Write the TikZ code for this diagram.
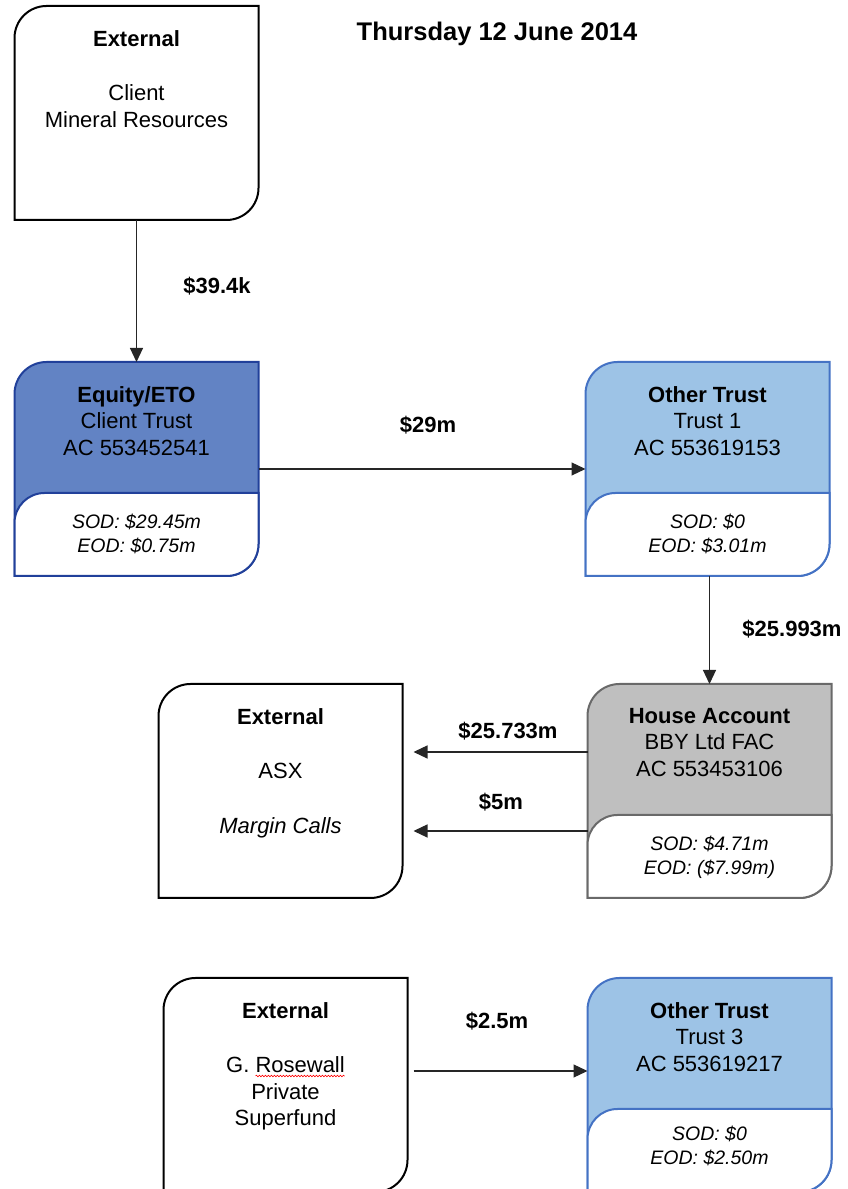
\documentclass[tikz,border=0pt]{standalone}
\usepackage{fontspec}
\setmainfont{Liberation Sans}
\usetikzlibrary{arrows.meta, positioning, decorations.pathmorphing}

\definecolor{eqfill}{RGB}{98,131,196}
\definecolor{eqline}{RGB}{33,64,154}
\definecolor{trfill}{RGB}{157,195,230}
\definecolor{trline}{RGB}{68,114,196}
\definecolor{hsfill}{RGB}{191,191,191}
\definecolor{hsline}{RGB}{105,105,105}

\tikzstyle{acct}=[rectangle, minimum width=244pt, minimum height=214pt, inner sep=0pt, outer sep=0pt]
\tikzstyle{head}=[anchor=north, align=center, inner sep=0pt, font=\fontsize{22pt}{26.5pt}\selectfont]
\tikzstyle{bal}=[anchor=north, align=center, inner sep=0pt, font=\fontsize{19.5pt}{23.5pt}\selectfont\itshape]
\tikzstyle{amt}=[anchor=base, inner sep=0pt, font=\fontsize{22pt}{26.5pt}\selectfont\bfseries]
\tikzstyle{boxline}=[line width=2pt]
\tikzstyle{flow}=[->, line width=1.2pt, draw=black!85]

% box with round top-left and bottom-right corners
\newcommand{\cutbox}[3]{%
  \draw[boxline, fill=#2, draw=#3]
    (#1.south west) -- ([yshift=-32pt]#1.north west)
    arc[start angle=180, end angle=90, radius=32pt]
    -- (#1.north east) -- ([yshift=32pt]#1.south east)
    arc[start angle=0, end angle=-90, radius=32pt]
    -- cycle;}
% white balance panel at the foot of an account box
\newcommand{\balpanel}[2]{%
  \draw[boxline, fill=white, draw=#2]
    (#1.south west) -- ([yshift=53pt]#1.south west)
    arc[start angle=180, end angle=90, radius=30pt]
    -- ([yshift=83pt]#1.south east) -- ([yshift=32pt]#1.south east)
    arc[start angle=0, end angle=-90, radius=32pt]
    -- cycle;}

\begin{document}
\begin{tikzpicture}[x=1pt, y=1pt, >={Triangle[length=14pt, width=13pt]}]
  \useasboundingbox (0,0) rectangle (847,1189);

  \node[amt, font=\fontsize{25.5pt}{30pt}\selectfont\bfseries] (date) at (497,1148) {Thursday 12 June 2014};

  % boxes
  \node[acct] (ext1) at (136.5,1076) {};
  \node[acct, below=142pt of ext1] (equity) {};
  \node[acct, right=327pt of equity] (trust1) {};
  \node[acct, below=108pt of trust1, xshift=2pt] (house) {};
  \node[acct, left=185pt of house] (asx) {};
  \node[acct, below=80pt of asx, xshift=5pt] (rosewall) {};
  \node[acct, below=80pt of house] (trust3) {};

  \cutbox{ext1}{white}{black}
  \cutbox{equity}{eqfill}{eqline}
  \balpanel{equity}{eqline}
  \cutbox{trust1}{trfill}{trline}
  \balpanel{trust1}{trline}
  \cutbox{asx}{white}{black}
  \cutbox{house}{hsfill}{hsline}
  \balpanel{house}{hsline}
  \cutbox{rosewall}{white}{black}
  \cutbox{trust3}{trfill}{trline}
  \balpanel{trust3}{trline}

  % box texts
  \node[head] (ext1-t) at ([yshift=-24pt]ext1.north) {\textbf{External}\\[28pt]Client\\Mineral Resources};
  \node[head] (equity-t) at ([yshift=-24pt]equity.north) {\textbf{Equity/ETO}\\Client Trust\\AC 553452541};
  \node[bal] (equity-b) at ([yshift=62pt]equity.south) {SOD: \$29.45m\\EOD: \$0.75m};
  \node[head] (trust1-t) at ([yshift=-24pt]trust1.north) {\textbf{Other Trust}\\Trust 1\\AC 553619153};
  \node[bal] (trust1-b) at ([yshift=62pt]trust1.south) {SOD: \$0\\EOD: \$3.01m};
  \node[head] (asx-t) at ([yshift=-24pt]asx.north) {\textbf{External}\\[28pt]ASX\\[28pt]\textit{Margin Calls}};
  \node[head] (house-t) at ([yshift=-24pt]house.north) {\textbf{House Account}\\BBY Ltd FAC\\AC 553453106};
  \node[bal] (house-b) at ([yshift=62pt]house.south) {SOD: \$4.71m\\EOD: (\$7.99m)};
  \node[head] (rosewall-t) at ([yshift=-24pt]rosewall.north) {\textbf{External}\\[28pt]G. Rosewall\\Private\\Superfund};
  \node[head] (trust3-t) at ([yshift=-24pt]trust3.north) {\textbf{Other Trust}\\Trust 3\\AC 553619217};
  \node[bal] (trust3-b) at ([yshift=66pt]trust3.south) {SOD: \$0\\EOD: \$2.50m};

  % spelling mark under the name
  \draw[red, line width=0.6pt, decorate, decoration={snake, amplitude=0.8pt, segment length=3pt}]
    ([xshift=-30pt, yshift=9pt]rosewall.center) -- ([xshift=59pt, yshift=9pt]rosewall.center);

  % money flows
  \draw[flow] (equity.north |- ext1.south) -- (equity.north);
  \draw[flow] (equity.east) -- (trust1.west);
  \draw[flow] (house.north |- trust1.south) -- (house.north);
  \draw[flow] ([yshift=39pt]house.west) -- ([xshift=11pt, yshift=39pt]asx.east);
  \draw[flow] ([yshift=-40pt]house.west) -- ([xshift=11pt, yshift=-40pt]asx.east);
  \draw[flow] ([xshift=6pt, yshift=14pt]rosewall.east) -- ([yshift=14pt]trust3.west);

  \node[amt] (amt1) at (217,895) {\$39.4k};
  \node[amt] (amt2) at (428,756) {\$29m};
  \node[amt] (amt3) at (792,552) {\$25.993m};
  \node[amt] (amt4) at (508,450) {\$25.733m};
  \node[amt] (amt5) at (501,379) {\$5m};
  \node[amt] (amt6) at (497,160) {\$2.5m};
\end{tikzpicture}
\end{document}
